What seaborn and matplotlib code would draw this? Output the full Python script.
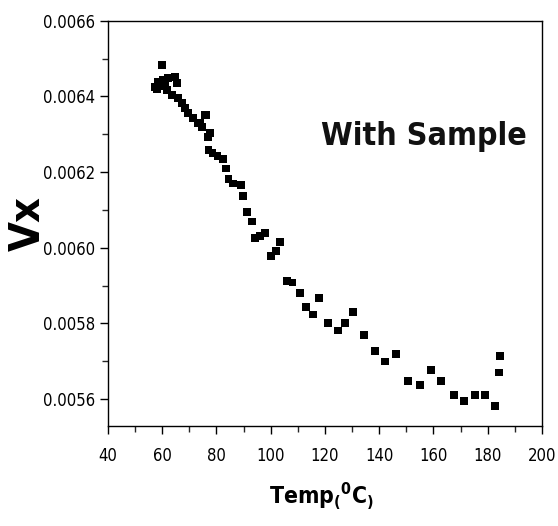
import matplotlib
matplotlib.use("Agg")
import matplotlib.pyplot as plt
import seaborn as sns
import pandas as pd
from matplotlib.ticker import MultipleLocator, FormatStrFormatter

temp = [59.9, 57.3, 58.4, 60.3, 62.1, 64.7, 65.4, 61.8, 63.6, 65.8, 67.3, 68.4,
        69.5, 71.3, 73.2, 74.7, 75.8, 76.9, 73.9, 76.1, 77.6, 58.0, 59.5, 61.0,
        77.0, 78.6, 80.4, 82.3, 83.4, 84.5, 86.0, 89.0, 89.8, 91.2, 93.1, 94.2,
        96.0, 97.9, 103.4, 101.9, 100.1, 106.0, 108.0, 110.8, 113.0, 115.6, 117.8,
        121.1, 124.8, 127.4, 130.3, 134.4, 138.4, 142.1, 146.2, 150.6, 155.0,
        159.1, 162.8, 167.6, 171.2, 175.3, 179.0, 182.7, 184.1, 184.5]
vx = [0.006483, 0.006425, 0.006438, 0.006443, 0.006449, 0.006451, 0.006435,
      0.006417, 0.006404, 0.006396, 0.006382, 0.006369, 0.006356, 0.006343,
      0.006330, 0.006319, 0.006351, 0.006292, 0.006330, 0.006351, 0.006303,
      0.006418, 0.006432, 0.006428,
      0.006258, 0.006250, 0.006242, 0.006234, 0.006210, 0.006181, 0.006170,
      0.006166, 0.006137, 0.006094, 0.006070, 0.006026, 0.006031, 0.006039,
      0.006015, 0.005991, 0.005978, 0.005912, 0.005908, 0.005880, 0.005843,
      0.005824, 0.005867, 0.005801, 0.005782, 0.005801, 0.005830, 0.005769,
      0.005727, 0.005700, 0.005719, 0.005648, 0.005637, 0.005677, 0.005648,
      0.005611, 0.005595, 0.005611, 0.005611, 0.005582, 0.005671, 0.005714]

df = pd.DataFrame({"Temp": temp, "Vx": vx})

sns.set_style("ticks")
plt.rcParams["font.family"] = ["DejaVu Sans"]
plt.rcParams["font.stretch"] = "condensed"
plt.rcParams["text.color"] = "black"
plt.rcParams["axes.labelcolor"] = "black"
plt.rcParams["mathtext.fontset"] = "custom"
plt.rcParams["mathtext.rm"] = "DejaVu Sans:bold"
plt.rcParams["mathtext.it"] = "DejaVu Sans:bold"
plt.rcParams["mathtext.bf"] = "DejaVu Sans:bold"

fig = plt.figure(figsize=(5.58, 5.26), dpi=100)
ax = fig.add_axes([0.1935, 0.19, 0.7778, 0.7706])

sns.scatterplot(data=df, x="Temp", y="Vx", ax=ax, marker="s", s=30,
                color="black", edgecolor="none", legend=False)

ax.set_xlim(40, 200)
ax.set_ylim(0.005529, 0.0066)
ax.xaxis.set_major_locator(MultipleLocator(20))
ax.xaxis.set_minor_locator(MultipleLocator(10))
ax.yaxis.set_major_locator(MultipleLocator(0.0002))
ax.yaxis.set_minor_locator(MultipleLocator(0.0001))
ax.yaxis.set_major_formatter(FormatStrFormatter("%.4f"))

for s in ax.spines.values():
    s.set_linewidth(1.0)
    s.set_color("black")
ax.tick_params(which="major", direction="out", length=6, width=1,
               labelsize=12, colors="black", top=False, right=False)
ax.tick_params(axis="x", which="major", pad=9)
ax.tick_params(axis="y", which="major", pad=3)
ax.tick_params(which="minor", direction="out", length=4, width=1,
               top=False, right=False)

ax.set_xlabel(r"Temp$_($$^0$C$_)$", fontsize=16.5, fontweight="bold",
              color="black")
ax.xaxis.set_label_coords(0.493, -0.133)
ax.set_ylabel("Vx", fontsize=31, fontweight="bold", color="black")
ax.yaxis.set_label_coords(-0.137, 0.5)

ax.text(0.728, 0.714, "With Sample", transform=ax.transAxes, fontsize=23,
        ha="center", va="center", color="#111111", fontweight="bold")

fig.savefig("out.png", dpi=100)
